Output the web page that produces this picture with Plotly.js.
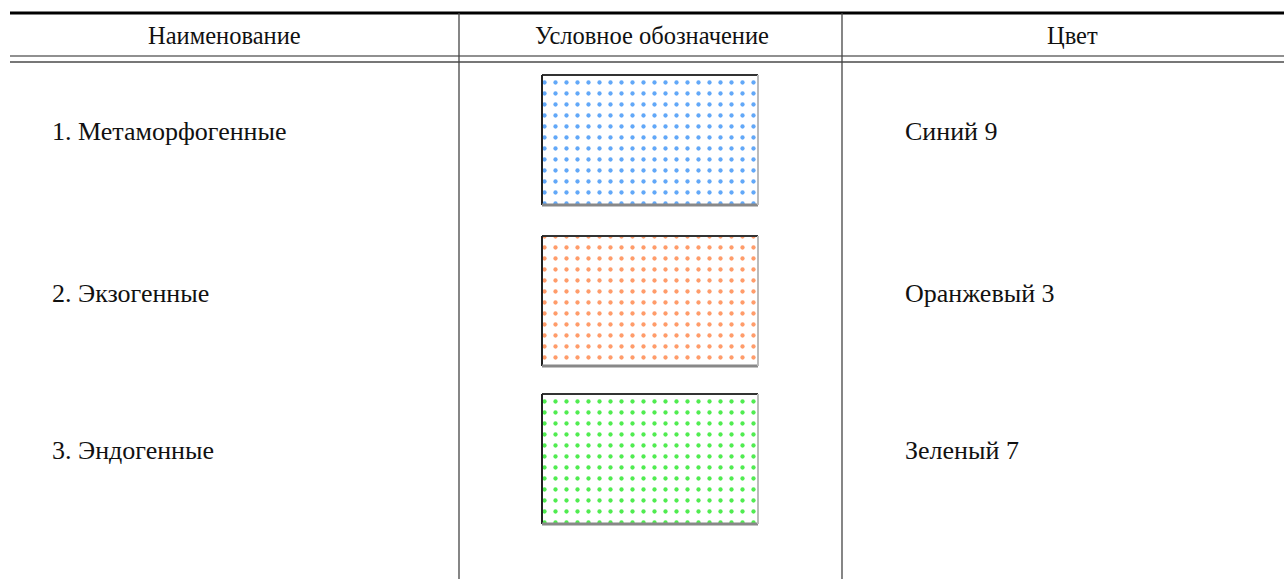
<!DOCTYPE html>
<html><head><meta charset="utf-8">
<script src="https://cdn.plot.ly/plotly-3.0.1.min.js"></script>
<style>html,body{margin:0;padding:0;background:#fff}#c{width:1284px;height:579px}</style>
</head><body><div id="c"></div>
<script>
const headers = ["Наименование", "Условное обозначение", "Цвет"];
const names = ["1. Метаморфогенные", "2. Экзогенные", "3. Эндогенные"];
const colorNames = ["Синий 9", "Оранжевый 3", "Зеленый 7"];
const swatchColors = ["#62a8f8", "#ff9c6a", "#50ec50"];

const W = 1284, H = 579;
const colX = [10, 459, 842, W];
const headerCenters = [224, 652, 1072];
const rowTop = [75, 236, 394];
const swH = 130, swX0 = 542, swX1 = 758;
const rowTextY = [131, 293, 450];

const trace = {
  type: 'bar',
  x: rowTop.map(() => (swX0 + swX1) / 2),
  y: rowTop.map(() => swH),
  base: rowTop,
  width: rowTop.map(() => swX1 - swX0),
  marker: {
    color: 'white',
    line: {width: 0},
    pattern: {shape: '.', fgcolor: swatchColors, bgcolor: 'white', size: 11, solidity: 0.12, fillmode: 'replace'}
  },
  hoverinfo: 'skip'
};

const shapes = [];
shapes.push({type:'line', x0:colX[0], x1:W, y0:13, y1:13, line:{color:'#000', width:3}});
shapes.push({type:'line', x0:colX[0], x1:W, y0:56, y1:56, line:{color:'#222', width:1.2}});
shapes.push({type:'line', x0:colX[0], x1:W, y0:62, y1:62, line:{color:'#777', width:2}});
[colX[1], colX[2]].forEach(x => shapes.push({type:'line', x0:x, x1:x, y0:13, y1:H, line:{color:'#444', width:1.3}}));
rowTop.forEach(t => {
  shapes.push({type:'line', x0:swX0, x1:swX1, y0:t, y1:t, line:{color:'#333', width:2}});
  shapes.push({type:'line', x0:swX0, x1:swX0, y0:t, y1:t+swH, line:{color:'#222', width:2}});
  shapes.push({type:'line', x0:swX0, x1:swX1, y0:t+swH, y1:t+swH, line:{color:'#888', width:3}});
  shapes.push({type:'line', x0:swX1, x1:swX1, y0:t, y1:t+swH, line:{color:'#bbb', width:2}});
});

const font = {family:'"Liberation Serif", "DejaVu Serif", serif', size:26, color:'#111'};
const annotations = [];
headers.forEach((h,i) => annotations.push({x:headerCenters[i], y:35, text:h, showarrow:false, xanchor:'center', yanchor:'middle', font:{...font, size:24.5}}));
names.forEach((n,i) => annotations.push({x:50, y:rowTextY[i], text:n, showarrow:false, xanchor:'left', yanchor:'middle', font}));
colorNames.forEach((n,i) => annotations.push({x:903, y:rowTextY[i], text:n, showarrow:false, xanchor:'left', yanchor:'middle', font}));

const layout = {
  width: W, height: H,
  margin: {l:0, r:0, t:0, b:0},
  paper_bgcolor: '#fff', plot_bgcolor: '#fff',
  xaxis: {range:[0, W], visible:false, fixedrange:true},
  yaxis: {range:[H, 0], visible:false, fixedrange:true},
  showlegend: false,
  shapes, annotations
};
Plotly.newPlot('c', [trace], layout, {displayModeBar:false, staticPlot:true});
</script></body></html>
